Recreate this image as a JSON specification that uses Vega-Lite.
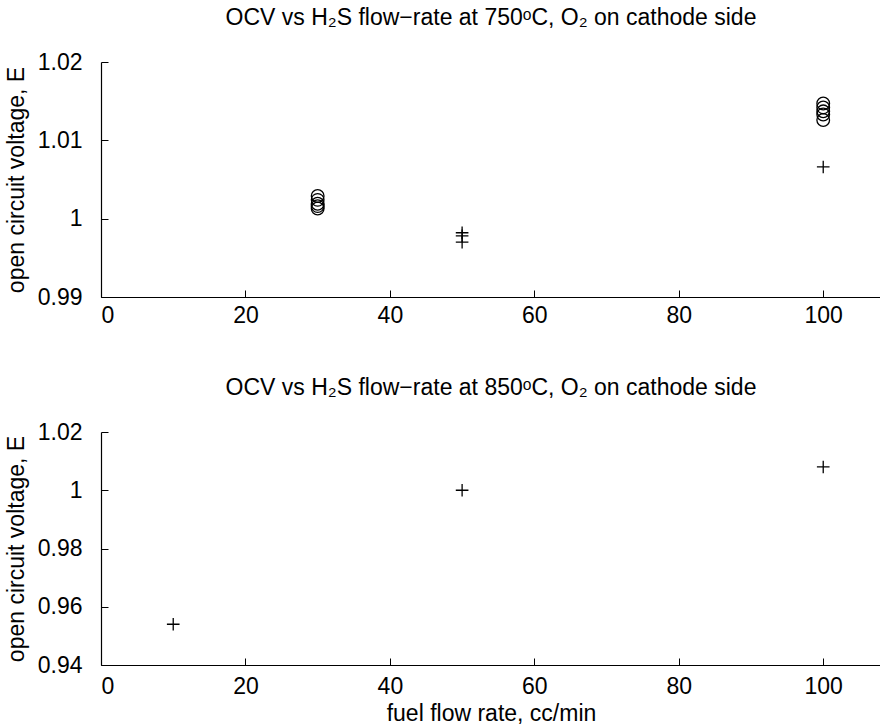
{
  "$schema": "https://vega.github.io/schema/vega-lite/v6.json",
  "background": "white",
  "padding": {"left": 5, "top": 7, "right": 0, "bottom": 0},
  "spacing": 50,
  "config": {
    "font": "Liberation Sans",
    "view": {"stroke": null},
    "axis": {
      "grid": false,
      "domainColor": "black",
      "domainWidth": 1.2,
      "tickColor": "black",
      "tickSize": -7,
      "labelColor": "black",
      "titleColor": "black",
      "labelFont": "Liberation Sans",
      "titleFont": "Liberation Sans",
      "labelFontSize": 23,
      "titleFontSize": 23,
      "titleFontWeight": "normal"
    },
    "title": {"font": "Liberation Sans", "fontSize": 23, "fontWeight": "normal", "color": "black", "anchor": "middle", "offset": 21}
  },
  "datasets": {
    "pts": [
      {"temp": "750", "flow": 30, "ocv": 1.0029, "marker": "circle"},
      {"temp": "750", "flow": 30, "ocv": 1.0024, "marker": "circle"},
      {"temp": "750", "flow": 30, "ocv": 1.0019, "marker": "circle"},
      {"temp": "750", "flow": 30, "ocv": 1.0016, "marker": "circle"},
      {"temp": "750", "flow": 30, "ocv": 1.0013, "marker": "circle"},
      {"temp": "750", "flow": 50, "ocv": 0.9982, "marker": "plus"},
      {"temp": "750", "flow": 50, "ocv": 0.9978, "marker": "plus"},
      {"temp": "750", "flow": 50, "ocv": 0.9970, "marker": "plus"},
      {"temp": "750", "flow": 100, "ocv": 1.0147, "marker": "circle"},
      {"temp": "750", "flow": 100, "ocv": 1.0142, "marker": "circle"},
      {"temp": "750", "flow": 100, "ocv": 1.0137, "marker": "circle"},
      {"temp": "750", "flow": 100, "ocv": 1.0133, "marker": "circle"},
      {"temp": "750", "flow": 100, "ocv": 1.0126, "marker": "circle"},
      {"temp": "750", "flow": 100, "ocv": 1.0066, "marker": "plus"},
      {"temp": "850", "flow": 10, "ocv": 0.954, "marker": "plus"},
      {"temp": "850", "flow": 50, "ocv": 1.000, "marker": "plus"},
      {"temp": "850", "flow": 100, "ocv": 1.008, "marker": "plus"}
    ]
  },
  "vconcat": [
    {
      "title": "OCV vs H₂S flow−rate at 750ᵒC, O₂ on cathode side",
      "width": 780,
      "height": 235,
      "data": {"name": "pts"},
      "transform": [{"filter": "datum.temp === '750'"}],
      "mark": {"type": "point", "filled": false, "stroke": "black", "strokeWidth": 1.3, "opacity": 1, "size": 160, "clip": true},
      "encoding": {
        "x": {"field": "flow", "type": "quantitative", "scale": {"domain": [0, 108], "nice": false}, "axis": {"values": [0, 20, 40, 60, 80, 100], "title": null, "labelPadding": 14}},
        "y": {"field": "ocv", "type": "quantitative", "scale": {"domain": [0.99, 1.02], "nice": false, "zero": false}, "axis": {"values": [0.99, 1.0, 1.01, 1.02], "format": "~f", "title": "open circuit voltage, E", "labelPadding": 26, "titlePadding": 9}},
        "shape": {"field": "marker", "type": "nominal", "scale": {"domain": ["circle", "plus"], "range": ["circle", "M-1,0H1M0,-1V1"]}, "legend": null}
      }
    },
    {
      "title": "OCV vs H₂S flow−rate at 850ᵒC, O₂ on cathode side",
      "width": 780,
      "height": 233,
      "data": {"name": "pts"},
      "transform": [{"filter": "datum.temp === '850'"}],
      "mark": {"type": "point", "filled": false, "stroke": "black", "strokeWidth": 1.3, "opacity": 1, "size": 160, "clip": true},
      "encoding": {
        "x": {"field": "flow", "type": "quantitative", "scale": {"domain": [0, 108], "nice": false}, "axis": {"values": [0, 20, 40, 60, 80, 100], "title": "fuel flow rate, cc/min", "labelPadding": 17, "titlePadding": 4}},
        "y": {"field": "ocv", "type": "quantitative", "scale": {"domain": [0.94, 1.02], "nice": false, "zero": false}, "axis": {"values": [0.94, 0.96, 0.98, 1.0, 1.02], "format": "~f", "title": "open circuit voltage, E", "labelPadding": 26, "titlePadding": 9}},
        "shape": {"field": "marker", "type": "nominal", "scale": {"domain": ["circle", "plus"], "range": ["circle", "M-1,0H1M0,-1V1"]}, "legend": null}
      }
    }
  ]
}
